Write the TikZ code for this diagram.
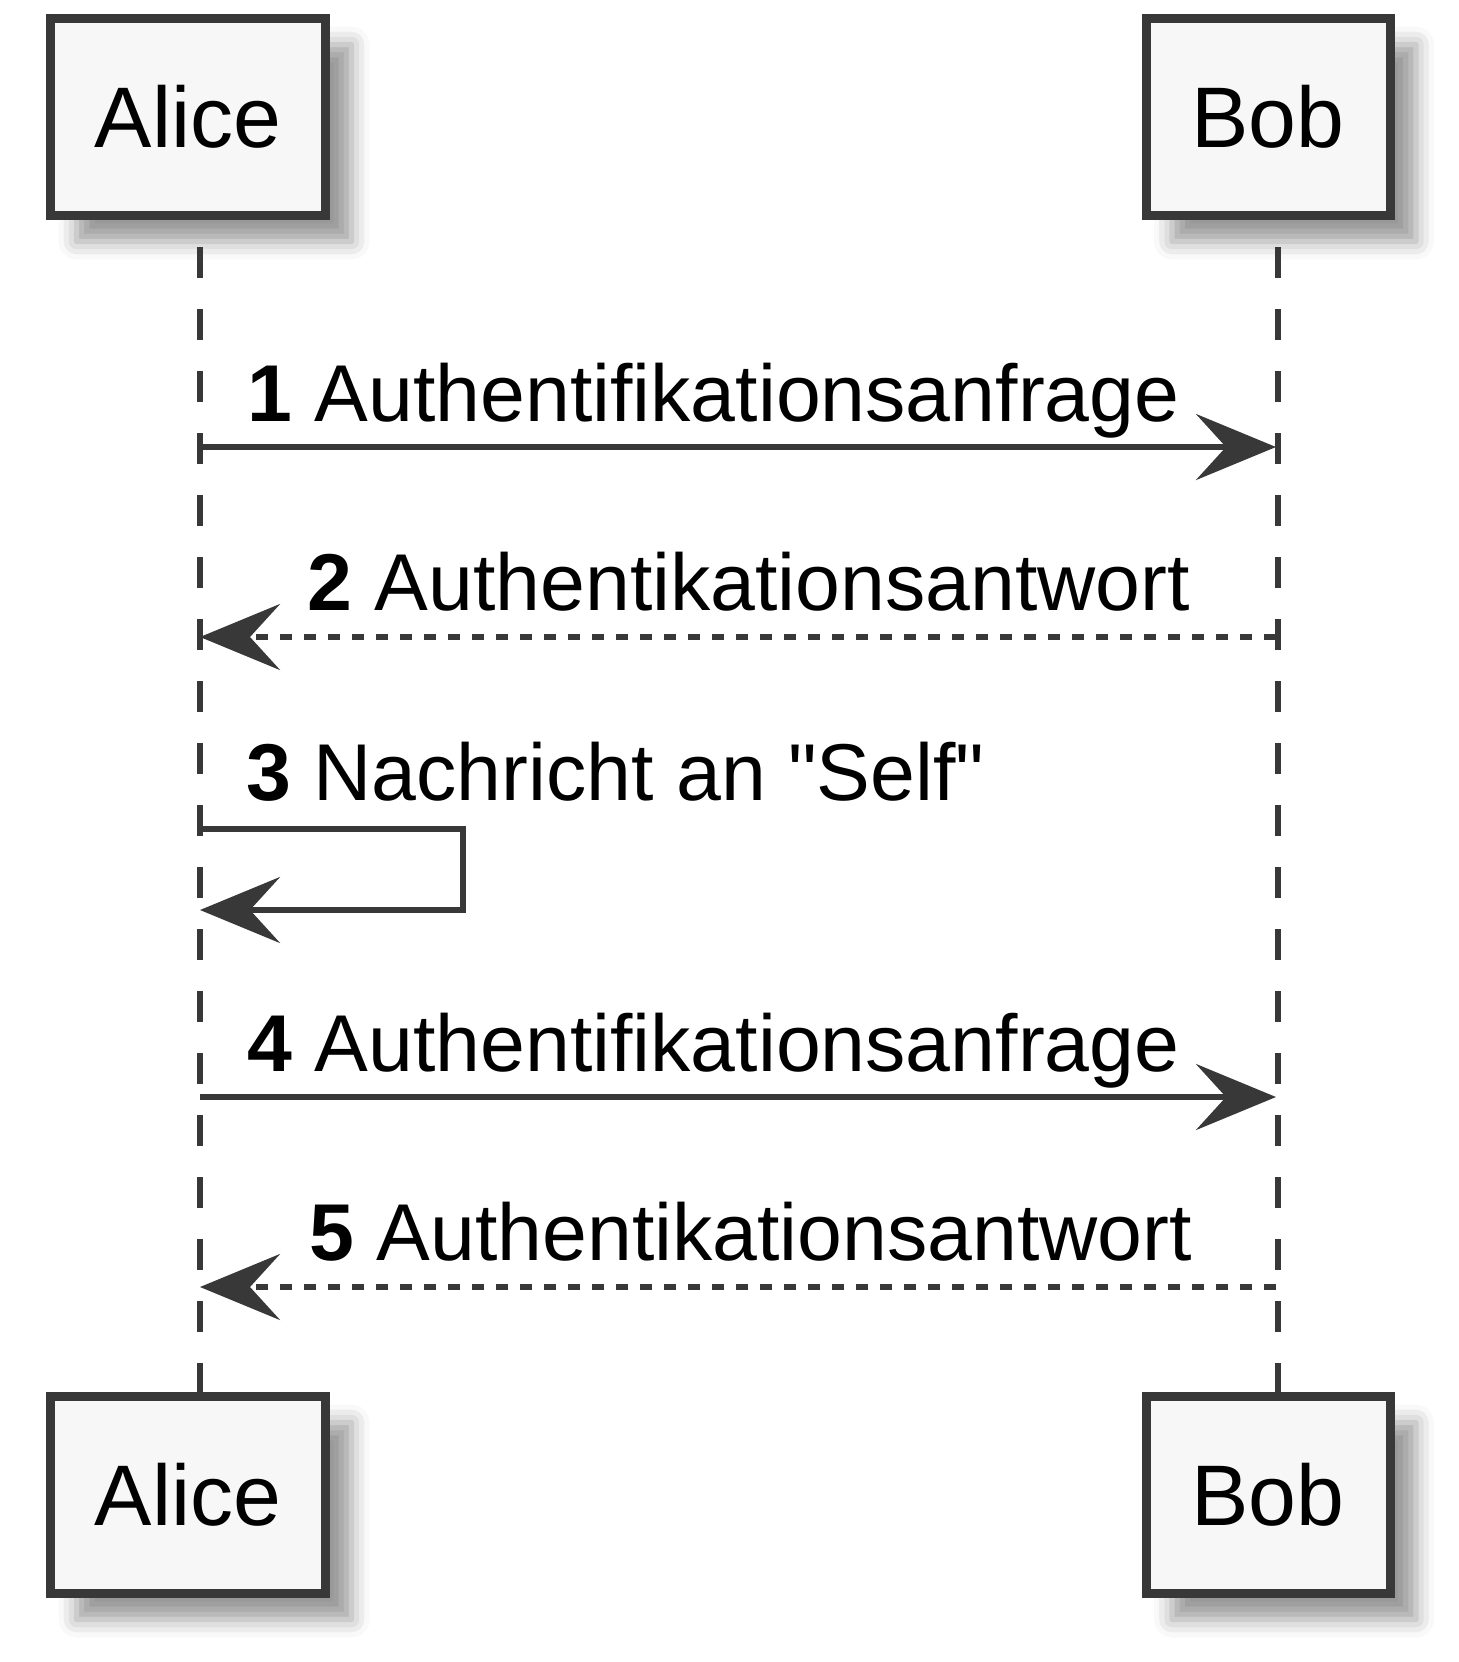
\documentclass[tikz,border=0pt]{standalone}
\usepackage{fontspec}
\setmainfont{Liberation Sans}[Ligatures=TeXOff]
\usetikzlibrary{arrows.meta,shadows.blur}
\definecolor{ink}{RGB}{56,56,56}
\definecolor{boxfill}{RGB}{247,247,247}
\begin{document}
\begin{tikzpicture}[x=0.5pt,y=-0.5pt,
 part/.style={draw=ink, fill=boxfill, line width=4.5pt, inner sep=0pt,
   minimum height=98.5pt, font=\fontsize{43}{52}\selectfont, text=black,
   blur shadow={shadow xshift=13pt, shadow yshift=-13pt, shadow blur radius=9pt, shadow opacity=40}},
 life/.style={draw=ink, line width=3pt, dash pattern=on 15.5pt off 15.5pt, dash phase=17.5pt},
 msg/.style={draw=ink, line width=2.8pt, -{Stealth[length=40pt 0 0, width=33pt 0 0, inset=15pt 0 0]}},
 ret/.style={msg, dash pattern=on 6pt off 6pt},
 lbl/.style={anchor=base west, inner sep=0pt, font=\fontsize{40.3}{48}\selectfont}]
\useasboundingbox (0,0) rectangle (1459,1662);
% participants
\node[part, minimum width=137.5pt] (aliceTop) at (188,117) {Alice};
\node[part, minimum width=122pt] (bobTop) at (1268,117) {Bob};
\node[part, minimum width=137.5pt] (aliceBot) at (188,1495) {Alice};
\node[part, minimum width=122pt] (bobBot) at (1268,1495) {Bob};
% lifelines
\draw[life] ([xshift=6pt]aliceTop.south) -- ([xshift=6pt]aliceBot.north);
\draw[life] ([xshift=5pt]bobTop.south) -- ([xshift=5pt]bobBot.north);
% message end points
\coordinate (m1a) at (200,447);  \coordinate (m1b) at (1276,447);
\coordinate (m2a) at (200,637);  \coordinate (m2b) at (1276,637);
\coordinate (m3a) at (200,829);  \coordinate (m3b) at (200,910);
\coordinate (m4a) at (200,1097); \coordinate (m4b) at (1276,1097);
\coordinate (m5a) at (200,1287); \coordinate (m5b) at (1276,1287);
% messages
\draw[msg] (m1a) -- (m1b);
\node[lbl] (l1) at (247,421) {\textbf{1} Authentifikationsanfrage};
\draw[ret] (m2b) -- (m2a);
\node[lbl] (l2) at (307,610) {\textbf{2} Authentikationsantwort};
\draw[msg] (m3a) -- ++(263,0) |- (m3b);
\node[lbl] (l3) at (246,800) {\textbf{3} Nachricht an "Self"};
\draw[msg] (m4a) -- (m4b);
\node[lbl] (l4) at (247,1071) {\textbf{4} Authentifikationsanfrage};
\draw[ret] (m5b) -- (m5a);
\node[lbl] (l5) at (309,1260) {\textbf{5} Authentikationsantwort};
\end{tikzpicture}
\end{document}
